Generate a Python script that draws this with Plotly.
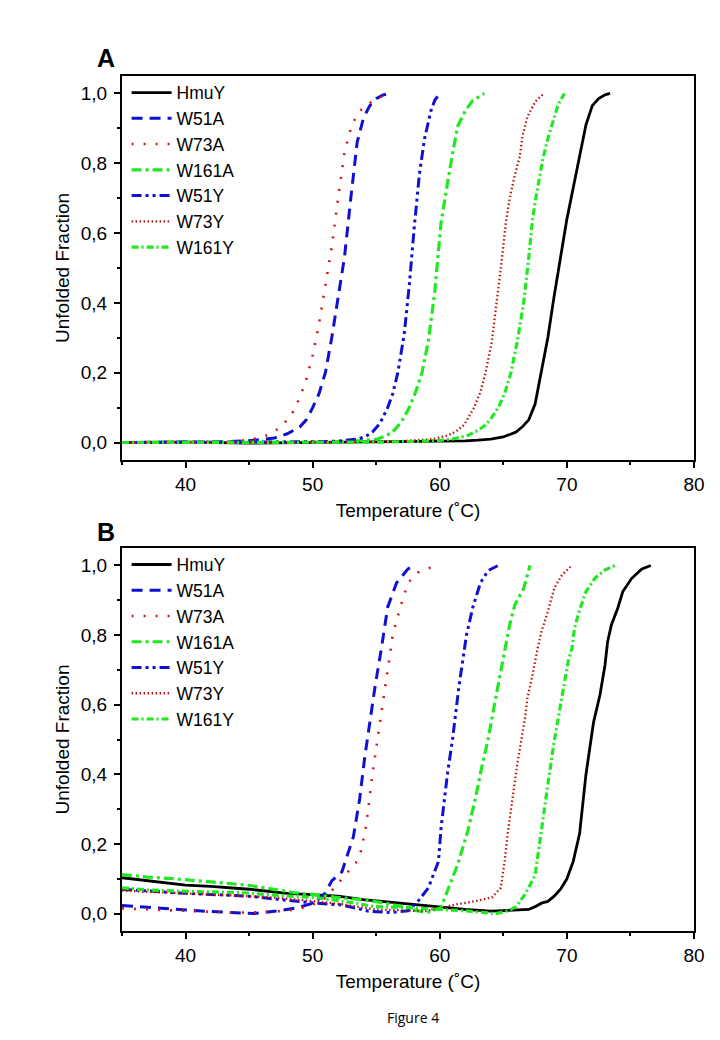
import plotly.graph_objects as go

# ---------------- Panel A data ----------------
A_HmuY_x = [35, 40, 45, 50, 55, 58, 60, 62, 63, 64, 65, 65.5, 66, 66.5, 67, 67.5, 68, 68.5, 69, 69.5, 70, 70.5, 71, 71.5, 72, 72.5, 73, 73.4]
A_HmuY_y = [0, 0.001, -0.002, 0, 0.001, 0.002, 0.003, 0.005, 0.007, 0.01, 0.016, 0.022, 0.03, 0.045, 0.065, 0.11, 0.2, 0.3, 0.42, 0.53, 0.64, 0.73, 0.82, 0.91, 0.965, 0.985, 0.996, 1.0]

A_W51A_x = [35, 40, 43, 45, 46, 47, 48, 49, 49.5, 50, 50.5, 51, 51.5, 52, 52.5, 53, 53.5, 54, 54.5, 55, 55.5, 56]
A_W51A_y = [0, 0, 0.002, 0.005, 0.008, 0.013, 0.025, 0.045, 0.065, 0.1, 0.14, 0.2, 0.3, 0.41, 0.53, 0.7, 0.86, 0.93, 0.965, 0.985, 0.995, 1.0]

A_W73A_x = [35, 40, 43, 44, 45, 46, 46.5, 47, 47.5, 48, 48.5, 49, 49.5, 50, 50.5, 51, 51.5, 52, 52.5, 53, 53.5, 54, 55, 56]
A_W73A_y = [0, 0, 0.002, 0.004, 0.008, 0.015, 0.022, 0.032, 0.045, 0.065, 0.09, 0.13, 0.18, 0.25, 0.34, 0.45, 0.56, 0.7, 0.83, 0.9, 0.94, 0.96, 0.985, 1.0]

A_W161A_x = [35, 40, 45, 50, 53, 54, 55.1, 55.7, 56.3, 57, 57.6, 58.1, 58.6, 59.1, 59.6, 60.1, 60.4, 60.8, 61.2, 61.4, 62.0, 62.6, 63.5]
A_W161A_y = [0, 0, 0, 0.001, 0.003, 0.006, 0.01, 0.018, 0.03, 0.06, 0.1, 0.145, 0.2, 0.29, 0.43, 0.63, 0.7, 0.785, 0.866, 0.905, 0.95, 0.98, 1.0]

A_W51Y_x = [35, 40, 45, 50, 52, 53, 53.6, 54.2, 54.7, 55.3, 55.9, 56.3, 56.7, 57.2, 57.6, 58.0, 58.4, 58.8, 59.3, 59.6, 60.0]
A_W51Y_y = [0, 0, 0.001, 0.002, 0.004, 0.007, 0.01, 0.018, 0.03, 0.055, 0.1, 0.14, 0.2, 0.31, 0.45, 0.62, 0.77, 0.87, 0.95, 0.98, 1.0]

A_W73Y_x = [35, 40, 45, 50, 55, 57, 58.5, 59.5, 60.6, 61.3, 61.9, 62.7, 63.2, 63.6, 64.1, 64.6, 64.9, 65.2, 65.5, 65.9, 66.3, 66.5, 66.9, 67.5, 68.2]
A_W73Y_y = [0, 0, 0, 0.001, 0.002, 0.004, 0.007, 0.01, 0.02, 0.032, 0.05, 0.1, 0.145, 0.2, 0.29, 0.43, 0.53, 0.63, 0.7, 0.766, 0.82, 0.876, 0.933, 0.976, 1.0]

A_W161Y_x = [35, 40, 45, 50, 55, 58, 60, 61, 62.2, 63, 63.6, 64.1, 64.6, 65.1, 65.6, 66.1, 66.6, 67.0, 67.3, 67.6, 67.9, 68.1, 68.5, 68.9, 69.3, 69.8]
A_W161Y_y = [0, 0, 0, 0, 0.001, 0.003, 0.006, 0.01, 0.02, 0.035, 0.05, 0.072, 0.1, 0.14, 0.2, 0.29, 0.4, 0.53, 0.64, 0.71, 0.766, 0.81, 0.87, 0.92, 0.967, 1.0]

# ---------------- Panel B data ----------------
B_HmuY_x = [35, 37, 40, 42, 45, 48, 50, 52, 54, 56, 58, 60, 62, 64, 65, 66, 67, 67.5, 68, 68.5, 69, 69.5, 70, 70.5, 71, 71.5, 71.8, 72.1, 72.6, 73.0, 73.2, 73.5, 74.0, 74.4, 75.1, 75.9, 76.6]
B_HmuY_y = [0.103, 0.095, 0.082, 0.078, 0.07, 0.058, 0.055, 0.05, 0.04, 0.033, 0.025, 0.017, 0.012, 0.007, 0.008, 0.01, 0.012, 0.02, 0.03, 0.035, 0.05, 0.07, 0.1, 0.15, 0.23, 0.4, 0.48, 0.55, 0.628, 0.714, 0.78, 0.829, 0.877, 0.925, 0.963, 0.99, 1.0]

B_W51A_x = [35, 37, 39.1, 41, 43.6, 45.4, 47.5, 48.8, 50.2, 51, 51.5, 52, 52.3, 53.2, 53.7, 54.1, 54.5, 54.9, 55.4, 55.9, 56.6, 57.5, 58.1]
B_W51A_y = [0.023, 0.018, 0.012, 0.008, 0.003, 0.0, 0.009, 0.017, 0.032, 0.06, 0.094, 0.11, 0.12, 0.22, 0.33, 0.45, 0.55, 0.65, 0.76, 0.88, 0.95, 0.99, 1.0]

B_W73A_x = [35, 38, 40, 42, 45, 47, 48, 49, 50, 51, 51.7, 52.5, 53.4, 53.8, 54.2, 54.7, 55.1, 55.5, 55.9, 56.3, 56.9, 57.5, 58.3, 59.2, 60.0]
B_W73A_y = [0.015, 0.01, 0.008, 0.005, 0.003, 0.005, 0.008, 0.015, 0.025, 0.045, 0.075, 0.108, 0.146, 0.18, 0.25, 0.4, 0.5, 0.6, 0.7, 0.8, 0.88, 0.95, 0.98, 0.993, 1.0]

B_W161A_x = [35, 37, 39.1, 41, 43, 45.2, 47, 48.6, 50, 52.3, 54, 55, 56, 57, 58, 59, 60.1, 60.6, 61.4, 62.2, 62.8, 63.3, 63.8, 64.3, 64.8, 65.5, 65.9, 66.6, 67.1]
B_W161A_y = [0.112, 0.105, 0.1, 0.095, 0.088, 0.08, 0.07, 0.06, 0.055, 0.045, 0.04, 0.035, 0.028, 0.02, 0.01, 0.003, 0.017, 0.065, 0.14, 0.237, 0.33, 0.42, 0.5, 0.6, 0.7, 0.83, 0.886, 0.934, 1.0]

B_W51Y_x = [35, 37, 39.1, 42, 45, 47.5, 50.2, 52.3, 54.4, 56.2, 57.5, 58.3, 59.1, 59.9, 60.1, 60.6, 61.0, 61.5, 62.1, 62.6, 63.2, 63.8, 64.6]
B_W51Y_y = [0.07, 0.065, 0.06, 0.055, 0.05, 0.04, 0.03, 0.025, 0.007, 0.003, 0.008, 0.036, 0.074, 0.15, 0.246, 0.4, 0.5, 0.65, 0.8, 0.88, 0.95, 0.985, 1.0]

B_W73Y_x = [35, 37, 40, 42, 45, 47, 50, 52.3, 54.9, 57, 58.8, 60.1, 61.4, 62.8, 64.1, 64.8, 65.1, 65.4, 65.8, 66.1, 66.4, 66.7, 66.9, 67.3, 67.7, 68.0, 68.5, 69.0, 69.6, 70.4]
B_W73Y_y = [0.066, 0.063, 0.06, 0.055, 0.05, 0.046, 0.036, 0.027, 0.012, 0.009, 0.007, 0.016, 0.027, 0.036, 0.046, 0.074, 0.15, 0.246, 0.36, 0.43, 0.495, 0.56, 0.62, 0.686, 0.762, 0.81, 0.867, 0.934, 0.972, 1.0]

B_W161Y_x = [35, 37, 39.1, 42, 44.4, 47, 50.2, 52.5, 54.9, 57.5, 60.1, 62, 64.4, 65.4, 66.0, 66.7, 67.5, 68.0, 68.5, 69.0, 69.3, 69.6, 69.8, 70.1, 70.4, 70.6, 71.0, 71.5, 72.2, 73.0, 73.8]
B_W161Y_y = [0.074, 0.068, 0.065, 0.062, 0.06, 0.053, 0.046, 0.035, 0.02, 0.017, 0.012, 0.008, 0.0, 0.008, 0.02, 0.055, 0.11, 0.246, 0.37, 0.495, 0.56, 0.62, 0.667, 0.724, 0.762, 0.82, 0.872, 0.925, 0.963, 0.987, 1.0]

# ---------------- labels ----------------
series_names = ["HmuY", "W51A", "W73A", "W161A", "W51Y", "W73Y", "W161Y"]
x_tick_vals = [40, 50, 60, 70, 80]
y_tick_vals = [0.0, 0.2, 0.4, 0.6, 0.8, 1.0]
y_tick_text = ["0,0", "0,2", "0,4", "0,6", "0,8", "1,0"]
x_title = "Temperature (˚C)"
y_title = "Unfolded Fraction"
caption = "Figure 4"

panel_A = [(A_HmuY_x, A_HmuY_y), (A_W51A_x, A_W51A_y), (A_W73A_x, A_W73A_y), (A_W161A_x, A_W161A_y),
           (A_W51Y_x, A_W51Y_y), (A_W73Y_x, A_W73Y_y), (A_W161Y_x, A_W161Y_y)]
panel_B = [(B_HmuY_x, B_HmuY_y), (B_W51A_x, B_W51A_y), (B_W73A_x, B_W73A_y), (B_W161A_x, B_W161A_y),
           (B_W51Y_x, B_W51Y_y), (B_W73Y_x, B_W73Y_y), (B_W161Y_x, B_W161Y_y)]

BLUE = "#1010d0"
RED = "#d01818"
DRED = "#b81414"
GREEN = "#22e822"
styles = [
    dict(color="black", width=2.8, dash="solid"),
    dict(color=BLUE, width=3, dash="11px,7px"),
    dict(color=RED, width=2.6, dash="2px,10px"),
    dict(color=GREEN, width=3.2, dash="10px,4px,3px,4px"),
    dict(color=BLUE, width=3, dash="10px,4px,3px,4px,3px,4px"),
    dict(color=DRED, width=2.3, dash="1.5px,2.5px"),
    dict(color=GREEN, width=3.2, dash="7px,3px,2px,3px"),
]

FONT = "Liberation Sans, Arial, sans-serif"
fig = go.Figure()
for panel, xa, ya, leg, tag in [(panel_A, "x", "y", "legend", "a"), (panel_B, "x2", "y2", "legend2", "b")]:
    for name, (xs, ys), st in zip(series_names, panel, styles):
        fig.add_trace(go.Scatter(x=xs, y=ys, mode="lines", name=name, line=st,
                                 legendgroup=tag + name,
                                 xaxis=xa, yaxis=ya, legend=leg, hoverinfo="skip"))

axis_common = dict(showline=True, linecolor="black", linewidth=2, mirror=True,
                   ticks="outside", ticklen=6, tickwidth=2, tickcolor="black",
                   showgrid=False, zeroline=False,
                   tickfont=dict(family=FONT, size=19, color="black"))
xcommon = dict(axis_common, range=[35, 80], tickvals=x_tick_vals,
               minor=dict(ticks="outside", ticklen=3, tickwidth=2, tickcolor="black", tick0=35, dtick=5),
               title=dict(text=x_title, font=dict(family=FONT, size=19, color="black"), standoff=10))
ycommon = dict(axis_common, range=[-0.05, 1.05], tickvals=y_tick_vals, ticktext=y_tick_text,
               ticklabelstandoff=3,
               minor=dict(ticks="outside", ticklen=3, tickwidth=2, tickcolor="black", tick0=0, dtick=0.1),
               title=dict(text=y_title, font=dict(family=FONT, size=19, color="black"), standoff=6))

legend_common = dict(font=dict(family=FONT, size=17.5, color="black"), bgcolor="rgba(0,0,0,0)",
                     xanchor="left", yanchor="top", x=0.008, tracegroupgap=0, itemwidth=40)

fig.update_layout(
    width=720, height=1040,
    margin=dict(l=114, r=34, t=40, b=80),
    paper_bgcolor="white", plot_bgcolor="white",
    xaxis=dict(xcommon, domain=[0, 1], anchor="y"),
    yaxis=dict(ycommon, domain=[0.5522, 0.9696], anchor="x"),
    xaxis2=dict(xcommon, domain=[0, 1], anchor="y2"),
    yaxis2=dict(ycommon, domain=[0.0402, 0.4565], anchor="x2"),
    legend=dict(legend_common, y=0.971),
    legend2=dict(legend_common, y=0.458),
    showlegend=True,
    hovermode=False,
    annotations=[
        dict(text="<b>A</b>", x=-0.028, y=0.989, xref="paper", yref="paper", showarrow=False,
             xanchor="center", yanchor="middle",
             font=dict(family=FONT, size=25, color="black")),
        dict(text="<b>B</b>", x=-0.028, y=0.4739, xref="paper", yref="paper", showarrow=False,
             xanchor="center", yanchor="middle",
             font=dict(family=FONT, size=25, color="black")),
        dict(text=caption, x=0.509, y=-0.0543, xref="paper", yref="paper", showarrow=False,
             xanchor="center", yanchor="middle",
             font=dict(family="Open Sans, sans-serif", size=14, color="black")),
    ],
)

fig.write_html("out.html")
